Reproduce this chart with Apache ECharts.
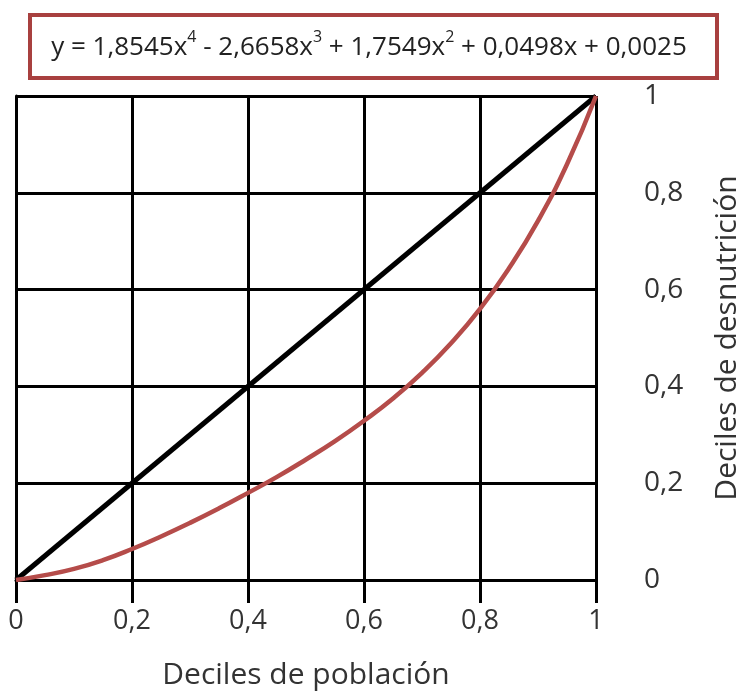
<!DOCTYPE html>
<html>
<head>
<meta charset="utf-8">
<script src="https://cdn.jsdelivr.net/npm/echarts@6/dist/echarts.min.js"></script>
<style>
html,body{margin:0;padding:0;background:#fff;}
#chart{width:746px;height:694px;}
</style>
</head>
<body>
<div id="chart"></div>
<script>
// Data
const xDeciles = [0, 0.05, 0.1, 0.15, 0.2, 0.25, 0.3, 0.35, 0.4, 0.45, 0.5, 0.55, 0.6, 0.65, 0.7, 0.75, 0.8, 0.85, 0.9, 0.95, 1];
const curveValues = [0, 0.010, 0.023, 0.041, 0.064, 0.090, 0.118, 0.148, 0.18, 0.213, 0.249, 0.287, 0.329, 0.375, 0.428, 0.489, 0.56, 0.644, 0.742, 0.859, 1.0];
const diagonalX = [0, 1];
const diagonalY = [0, 1];
const xAxisName = 'Deciles de población';
const yAxisName = 'Deciles de desnutrición';
const equationParts = ['y = 1,8545x', '4', ' - 2,6658x', '3', ' + 1,7549x', '2', ' + 0,0498x + 0,0025'];

const fmt = v => String(Math.round(v * 10) / 10).replace('.', ',');
const font = '"Open Sans", "Noto Sans", sans-serif';
const textColor = '#333';

const chart = echarts.init(document.getElementById('chart'), null, {renderer: 'canvas'});

const richEq = equationParts.map((p, i) => (i % 2 === 0 ? '{n|' : '{s|') + p + '}').join('');

const option = {
  backgroundColor: '#ffffff',
  animation: false,
  grid: {left: 16, right: 150, top: 96, bottom: 114, containLabel: false, outerBoundsMode: 'none'},
  xAxis: {
    type: 'value', min: 0, max: 1, interval: 0.2,
    name: xAxisName, nameLocation: 'middle', nameGap: 80,
    nameTextStyle: {fontFamily: font, fontSize: 30, color: textColor},
    axisLine: {show: true, lineStyle: {color: '#000', width: 3}},
    axisTick: {show: true, inside: false, length: 23, lineStyle: {color: '#000', width: 3}},
    splitLine: {show: true, lineStyle: {color: '#000', width: 3}},
    axisLabel: {formatter: fmt, fontFamily: font, fontSize: 27, color: textColor, margin: 28}
  },
  yAxis: {
    type: 'value', min: 0, max: 1, interval: 0.2, position: 'right',
    name: yAxisName, nameLocation: 'middle', nameGap: 116, nameRotate: 90,
    nameTextStyle: {fontFamily: font, fontSize: 30, color: textColor},
    axisLine: {show: true, lineStyle: {color: '#000', width: 3}},
    axisTick: {show: true, inside: false, length: 30, lineStyle: {color: '#000', width: 3}},
    splitLine: {show: true, lineStyle: {color: '#000', width: 3}},
    axisLabel: {formatter: fmt, fontFamily: font, fontSize: 28, color: textColor, margin: 48, align: 'left'}
  },
  series: [
    {
      type: 'line', name: 'Igualdad',
      data: diagonalX.map((x, i) => [x, diagonalY[i]]),
      symbol: 'none', lineStyle: {color: '#000', width: 5}, z: 3
    },
    {
      type: 'line', name: 'Curva',
      data: xDeciles.map((x, i) => [x, curveValues[i]]),
      symbol: 'none', smooth: true,
      lineStyle: {color: '#b54c4a', width: 4.5}, z: 4
    }
  ],
  graphic: [
    {
      type: 'rect', left: 28, top: 13, z: 10,
      shape: {width: 687, height: 63},
      style: {fill: '#fff', stroke: '#a8403f', lineWidth: 4}
    },
    {
      type: 'text', z: 11,
      x: 369, y: 45,
      style: {
        text: richEq,
        align: 'center', verticalAlign: 'middle',
        fill: '#222',
        rich: {
          n: {fontFamily: font, fontSize: 26, lineHeight: 32, fill: '#222', verticalAlign: 'bottom'},
          s: {fontFamily: font, fontSize: 16, lineHeight: 32, fill: '#222', verticalAlign: 'top'}
        }
      }
    }
  ]
};
chart.setOption(option);
</script>
</body>
</html>
